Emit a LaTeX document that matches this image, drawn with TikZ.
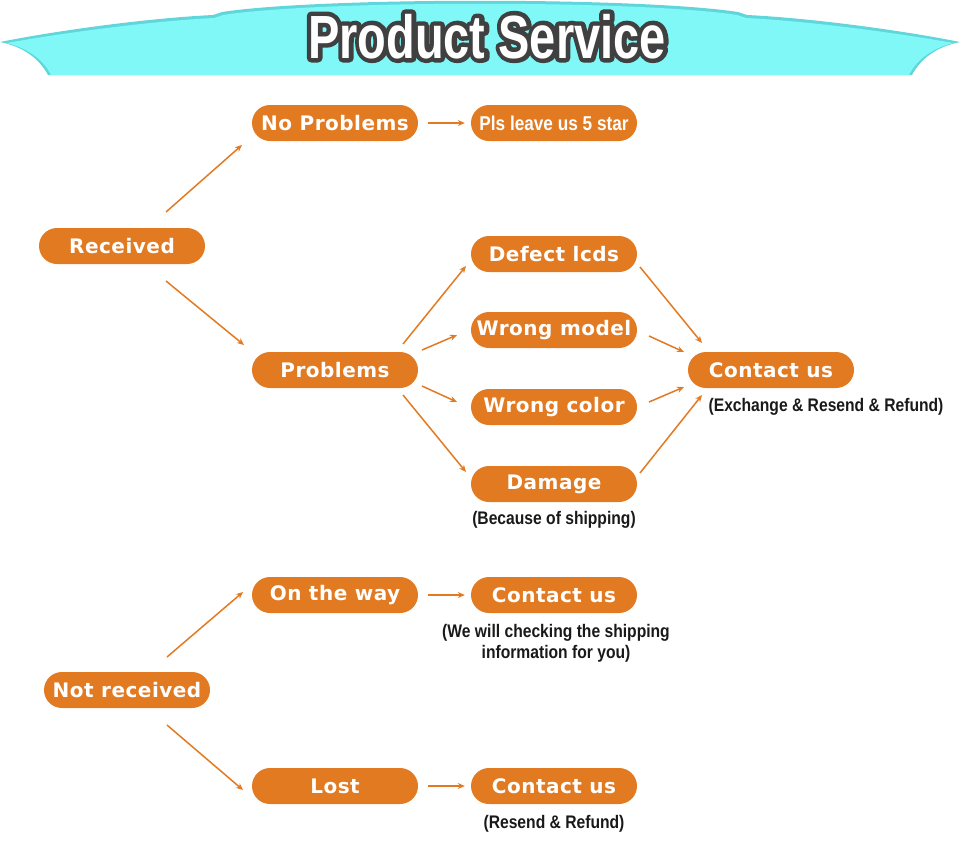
\documentclass[tikz,border=0pt]{standalone}
\usepackage{fontspec}
\usetikzlibrary{shapes.misc,arrows.meta,calc}
\newfontfamily\nodefont{DejaVu Sans}[LetterSpace=2.5]
\newfontfamily\condfont{Liberation Sans}[FakeStretch=0.86]
\newfontfamily\titlefont{Liberation Sans}[FakeStretch=0.77]
\definecolor{orng}{RGB}{226,122,34}
\definecolor{cyanband}{RGB}{128,248,248}
\definecolor{cyanrim}{RGB}{96,214,218}
\definecolor{outl}{RGB}{64,64,64}
\tikzset{
  pill/.style={rounded rectangle, fill=orng, minimum width=166pt, minimum height=36pt,
    inner sep=0pt, text=white, font=\nodefont\bfseries\fontsize{20}{24}\selectfont},
  pillc/.style={pill, font=\condfont\bfseries\fontsize{20}{24}\selectfont},
  note/.style={text=black!90, align=center, font=\condfont\bfseries\fontsize{18.2}{21}\selectfont},
  arr/.style={draw=orng, line width=1.5pt, -{Stealth[length=7pt,width=6pt]}},
  titletext/.style={anchor=base, font=\titlefont\bfseries\fontsize{61}{70}\selectfont}
}
\begin{document}
\begin{tikzpicture}[x=1pt,y=-1pt]
\useasboundingbox (0,0) rectangle (960,854);
% banner
\fill[cyanrim] (0,42) .. controls (60,30) and (150,18) .. (213,15)
  -- (222,12) .. controls (320,-3) and (640,-3) .. (738,12)
  -- (747,15) .. controls (810,18) and (900,30) .. (960,42)
  .. controls (935,47) and (920,60) .. (912,75) -- (48,75)
  .. controls (40,60) and (25,47) .. (0,42) -- cycle;
\fill[cyanband] (7,43) .. controls (62,33) and (152,21) .. (214,18)
  -- (223,15) .. controls (320,0) and (640,0) .. (737,15)
  -- (746,18) .. controls (808,21) and (898,33) .. (953,43)
  .. controls (930,49) and (916,61) .. (909,75) -- (51,75)
  .. controls (44,61) and (30,49) .. (7,43) -- cycle;
% title: dark outline (stroked text) under white text
\node[titletext, text=outl] (titleoutline) at (487,58)
  {\special{pdf:literal direct 2 Tr 9 w 1 j 0.25 0.25 0.25 RG}Product Service\special{pdf:literal direct 0 Tr}};
\node[titletext, text=white] (title) at (487,58) {Product Service};
% nodes
\node[pill] (rec) at (122,246) {Received};
\node[pill] (nop) at (335,123) {No Problems};
\node[pillc] (pls) at (554,123) {Pls leave us 5 star};
\node[pill] (prob) at (335,370) {Problems};
\node[pill] (def) at (554,254) {Defect lcds};
\node[pill] (wm) at (554,330) {Wrong model};
\node[pill] (wc) at (554,407) {Wrong color};
\node[pill] (dam) at (554,484) {Damage};
\node[pill] (c1) at (771,370) {Contact us};
\node[note] (n1) at (826,407) {(Exchange \& Resend \& Refund)};
\node[note] (n2) at (554,520) {(Because of shipping)};
\node[pill] (otw) at (335,595) {On the way};
\node[pill] (c2) at (554,595) {Contact us};
\node[note] (n3) at (556,643) {(We will checking the shipping\\information for you)};
\node[pill] (nr) at (127,690) {Not received};
\node[pill] (lost) at (335,786) {Lost};
\node[pill] (c3) at (554,786) {Contact us};
\node[note] (n4) at (554,824) {(Resend \& Refund)};
% connectors
\draw[arr] ($(rec)+(44,-34)$) -- ($(nop)+(-93,22)$);
\draw[arr] ($(rec)+(44,35)$) -- ($(prob)+(-91,-25)$);
\draw[arr] ([xshift=10pt]nop.east) -- ([xshift=-6pt]pls.west);
\draw[arr] ($(prob)+(68,-26)$) -- ($(def)+(-88,12)$);
\draw[arr] ($(prob)+(87,-20)$) -- ($(wm)+(-97,5)$);
\draw[arr] ($(prob)+(87,16)$) -- ($(wc)+(-97,-5)$);
\draw[arr] ($(prob)+(68,25)$) -- ($(dam)+(-88,-12)$);
\draw[arr] ($(def)+(86,13)$) -- ($(c1)+(-69,-27)$);
\draw[arr] ($(wm)+(95,6)$) -- ($(c1)+(-87,-18)$);
\draw[arr] ($(wc)+(95,-5)$) -- ($(c1)+(-87,17)$);
\draw[arr] ($(dam)+(86,-11)$) -- ($(c1)+(-69,25)$);
\draw[arr] ($(nr)+(40,-33)$) -- ($(otw)+(-92,-3)$);
\draw[arr] ($(nr)+(40,35)$) -- ($(lost)+(-92,4)$);
\draw[arr] ([xshift=10pt]otw.east) -- ([xshift=-6pt]c2.west);
\draw[arr] ([xshift=10pt]lost.east) -- ([xshift=-6pt]c3.west);
\end{tikzpicture}
\end{document}
